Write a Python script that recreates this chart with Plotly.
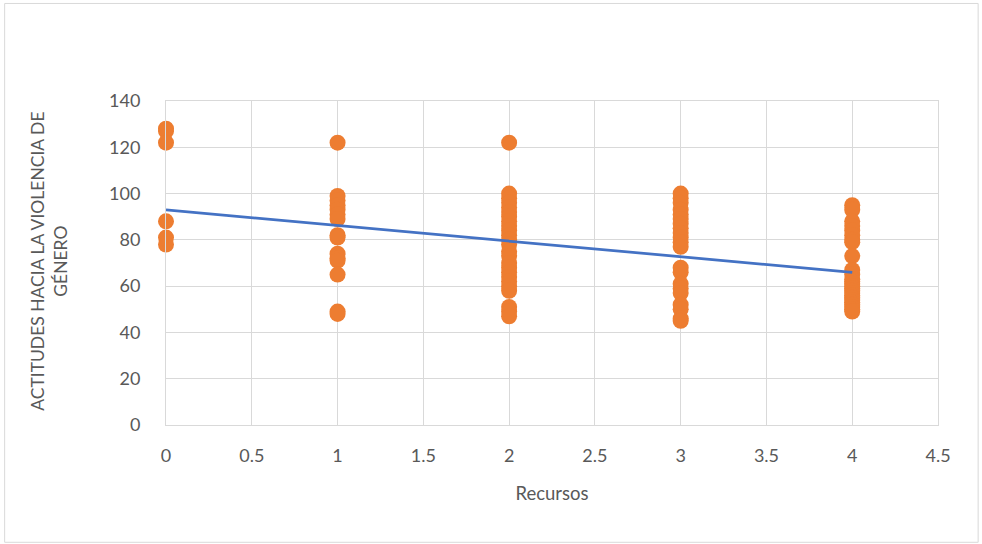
import numpy as np
import plotly.graph_objects as go

# Recursos (x) and attitude scores (y), grouped by resource level
recursos_0 = [128, 127, 122, 88, 81, 78]
recursos_1 = [122, 99, 97, 95, 93, 91, 89, 82, 81, 74, 72, 71, 65, 49, 48]
recursos_2 = [122, 100, 98, 96, 94, 92, 90, 88, 86, 84, 82, 80, 78, 75, 73,
              70, 68, 66, 64, 62, 60, 58, 51, 49, 47]
recursos_3 = [100, 98, 96, 93, 91, 89, 87, 85, 83, 81, 79, 77, 68, 66, 61,
              59, 57, 52, 50, 46, 45]
recursos_4 = [95, 93, 88, 86, 84, 82, 80, 79, 73, 67, 65, 63, 62, 61, 60, 59,
              58, 57, 56, 55, 54, 53, 52, 51, 50, 49]

x_tick_labels = ["0", "0.5", "1", "1.5", "2", "2.5", "3", "3.5", "4", "4.5"]

groups = [recursos_0, recursos_1, recursos_2, recursos_3, recursos_4]
x_vals = []
y_vals = []
for level, scores in enumerate(groups):
    x_vals += [level] * len(scores)
    y_vals += scores

# Linear least-squares trendline
slope, intercept = np.polyfit(x_vals, y_vals, 1)
x_line = [min(x_vals), max(x_vals)]
y_line = [intercept + slope * v for v in x_line]

fig = go.Figure()
fig.add_trace(go.Scatter(
    x=x_vals, y=y_vals, mode="markers",
    marker=dict(color="#ED7D31", size=16, line=dict(width=0)),
    showlegend=False, hoverinfo="x+y", cliponaxis=False,
))
fig.add_trace(go.Scatter(
    x=x_line, y=y_line, mode="lines",
    line=dict(color="#4472C4", width=2.75),
    showlegend=False, hoverinfo="skip", cliponaxis=False,
))

font_family = "Lato, 'Open Sans', sans-serif"
tick_font = dict(family=font_family, size=18, color="#595959")
title_font = dict(family=font_family, size=17.5, color="#595959")

fig.update_layout(
    width=982, height=544,
    margin=dict(l=166, r=44, t=101, b=119),
    paper_bgcolor="white", plot_bgcolor="white",
    font=dict(family=font_family, color="#595959"),
    xaxis=dict(
        range=[0, 4.5],
        tickvals=[i * 0.5 for i in range(len(x_tick_labels))],
        ticktext=x_tick_labels,
        showgrid=True, gridcolor="#D9D9D9", gridwidth=1,
        zeroline=False, showline=True, linecolor="#D9D9D9", mirror=True,
        ticks="", tickfont=tick_font, ticklabelstandoff=14,
        title=dict(text="Recursos", font=dict(family=font_family, size=18.5, color="#595959"),
                   standoff=22),
    ),
    yaxis=dict(
        range=[0, 140], dtick=20,
        showgrid=True, gridcolor="#D9D9D9", gridwidth=1,
        zeroline=False, showline=True, linecolor="#D9D9D9", mirror=True,
        ticks="", tickfont=tick_font, ticklabelstandoff=21,
    ),
    annotations=[dict(
        text="ACTITUDES HACIA LA VIOLENCIA DE<br>GÉNERO",
        xref="paper", yref="paper", x=-0.151, y=0.505,
        xanchor="center", yanchor="middle", textangle=-90,
        showarrow=False, font=title_font,
    )],
    shapes=[dict(
        type="rect", xref="paper", yref="paper",
        x0=-0.209, x1=1.052, y0=-0.362, y1=1.301,
        line=dict(color="#D9D9D9", width=1), fillcolor="rgba(0,0,0,0)", layer="below",
    )],
)

fig.write_html("out.html")
